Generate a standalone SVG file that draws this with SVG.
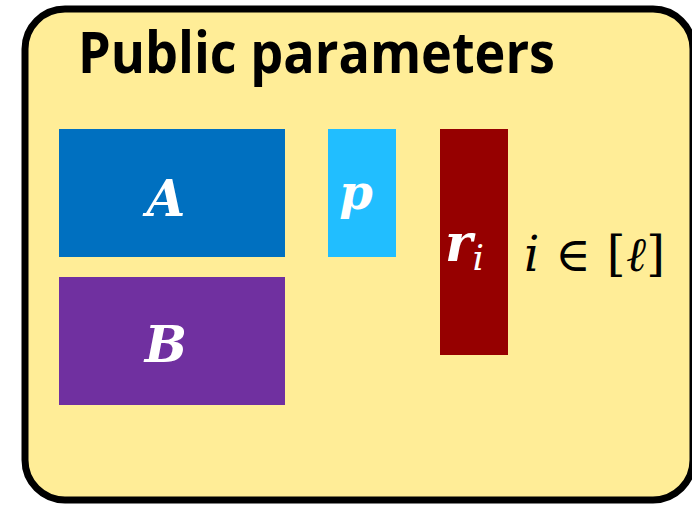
<svg xmlns="http://www.w3.org/2000/svg" width="692" height="505" viewBox="0 0 692 505">
<style>
.title{font-family:"Open Sans","Liberation Sans",sans-serif;font-weight:bold;font-size:57px;fill:#000}
.m{font-family:"DejaVu Serif","Liberation Serif",serif;font-style:italic;font-weight:bold;fill:#fff}
.t{font-family:"DejaVu Serif","Liberation Serif",serif;fill:#000;font-size:48px}
</style>
<g id="panel">
<rect x="25" y="9" width="668" height="491" rx="40" fill="#FFED97" stroke="#000" stroke-width="7"/>
<text class="title" x="78" y="73" textLength="477" lengthAdjust="spacingAndGlyphs">Public parameters</text>
</g>
<g id="A"><rect x="59" y="129" width="226" height="128" fill="#0070C0"/><text class="m" x="166" y="216" font-size="50" text-anchor="middle">A</text></g>
<g id="B"><rect x="59" y="277" width="226" height="128" fill="#7030A0"/><text class="m" x="166" y="362" font-size="50" text-anchor="middle">B</text></g>
<g id="p"><rect x="328" y="129" width="68" height="128" fill="#21BEFF"/><text class="m" x="356" y="209" font-size="48" text-anchor="middle">p</text></g>
<g id="r"><rect x="440" y="129" width="68" height="226" fill="#960000"/><text class="m" x="445" y="261" font-size="52">r<tspan font-weight="normal" font-size="36" dy="9">i</tspan></text></g>
<g id="range"><text class="t" x="524" y="271" textLength="141" lengthAdjust="spacing"><tspan font-style="italic">i</tspan> ∈ [<tspan font-style="italic">ℓ</tspan>]</text></g>
</svg>
